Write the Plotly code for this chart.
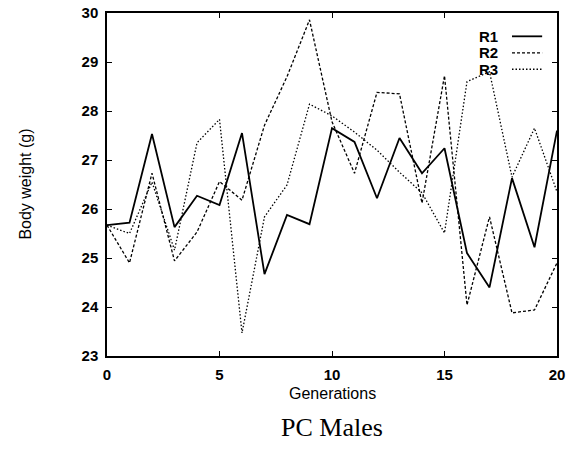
import plotly.graph_objects as go

generations = list(range(0, 21))
r1 = [25.67, 25.72, 27.53, 25.63, 26.27, 26.08, 27.55, 24.67, 25.88, 25.69, 27.65,
      27.37, 26.22, 27.45, 26.73, 27.24, 25.10, 24.40, 26.63, 25.22, 27.60]
r2 = [25.67, 24.90, 26.73, 24.94, 25.53, 26.56, 26.18, 27.71, 28.70, 29.86, 27.78,
      26.73, 28.38, 28.35, 26.12, 28.72, 24.04, 25.84, 23.88, 23.94, 24.90]
r3 = [25.67, 25.50, 26.55, 25.16, 27.35, 27.83, 23.47, 25.84, 26.49, 28.14, 27.90,
      27.57, 27.20, 26.75, 26.33, 25.51, 28.60, 28.80, 26.65, 27.65, 26.35]
series_names = ["R1", "R2", "R3"]
x_ticks = [0, 5, 10, 15, 20]
y_ticks = [23, 24, 25, 26, 27, 28, 29, 30]

styles = [dict(color="black", width=1.8, dash="solid"),
          dict(color="black", width=1.3, dash="3px,2px"),
          dict(color="black", width=1.3, dash="1.5px,2px")]

fig = go.Figure()
for name, ys, st in zip(series_names, [r1, r2, r3], styles):
    fig.add_trace(go.Scatter(x=generations, y=ys, mode="lines", name=name,
                             line=st, showlegend=False))

font = dict(family="Liberation Sans, Arial, sans-serif", color="black")
bold = dict(family="Liberation Sans, Arial, sans-serif", color="black", weight="bold")

fig.update_layout(
    width=569, height=449,
    margin=dict(l=107, r=12, t=13, b=93, autoexpand=False),
    paper_bgcolor="white", plot_bgcolor="white",
    font=dict(size=15, **font),
    xaxis=dict(range=[0, 20], tickvals=x_ticks, showgrid=False, zeroline=False,
               showline=True, linecolor="black", linewidth=1.5, mirror="ticks",
               ticks="inside", ticklen=5, tickcolor="black", automargin=False,
               ticklabelstandoff=4,
               tickfont=dict(size=15, **bold)),
    yaxis=dict(range=[23, 30], tickvals=y_ticks, showgrid=False, zeroline=False,
               showline=True, linecolor="black", linewidth=1.5, mirror="ticks",
               ticks="inside", ticklen=5, tickcolor="black", automargin=False,
               ticklabelstandoff=4,
               tickfont=dict(size=15, **bold)),
)

# axis titles
fig.add_annotation(xref="paper", yref="paper", x=0.5, y=-0.108, text="Generations",
                   showarrow=False, xanchor="center", yanchor="middle",
                   font=dict(size=16, **font))
fig.add_annotation(xref="paper", yref="paper", x=-0.182, y=0.5, text="Body weight (g)",
                   showarrow=False, xanchor="center", yanchor="middle", textangle=-90,
                   font=dict(size=16, **font))

# legend: text then line sample, in paper coordinates
leg_y = [0.932, 0.884, 0.836]
for name, st, yy in zip(series_names, styles, leg_y):
    fig.add_annotation(xref="paper", yref="paper", x=0.873, y=yy, text=name,
                       showarrow=False, xanchor="right", yanchor="middle",
                       font=dict(size=15, **bold))
    fig.add_shape(type="line", xref="paper", yref="paper", x0=0.9, x1=0.967,
                  y0=yy, y1=yy, line=st)

fig.add_annotation(xref="paper", yref="paper", x=0.5, y=-0.207, text="PC Males",
                   showarrow=False, xanchor="center", yanchor="middle",
                   font=dict(size=26, family="Liberation Serif, Times New Roman, serif",
                             color="black"))

fig.write_html("out.html")
